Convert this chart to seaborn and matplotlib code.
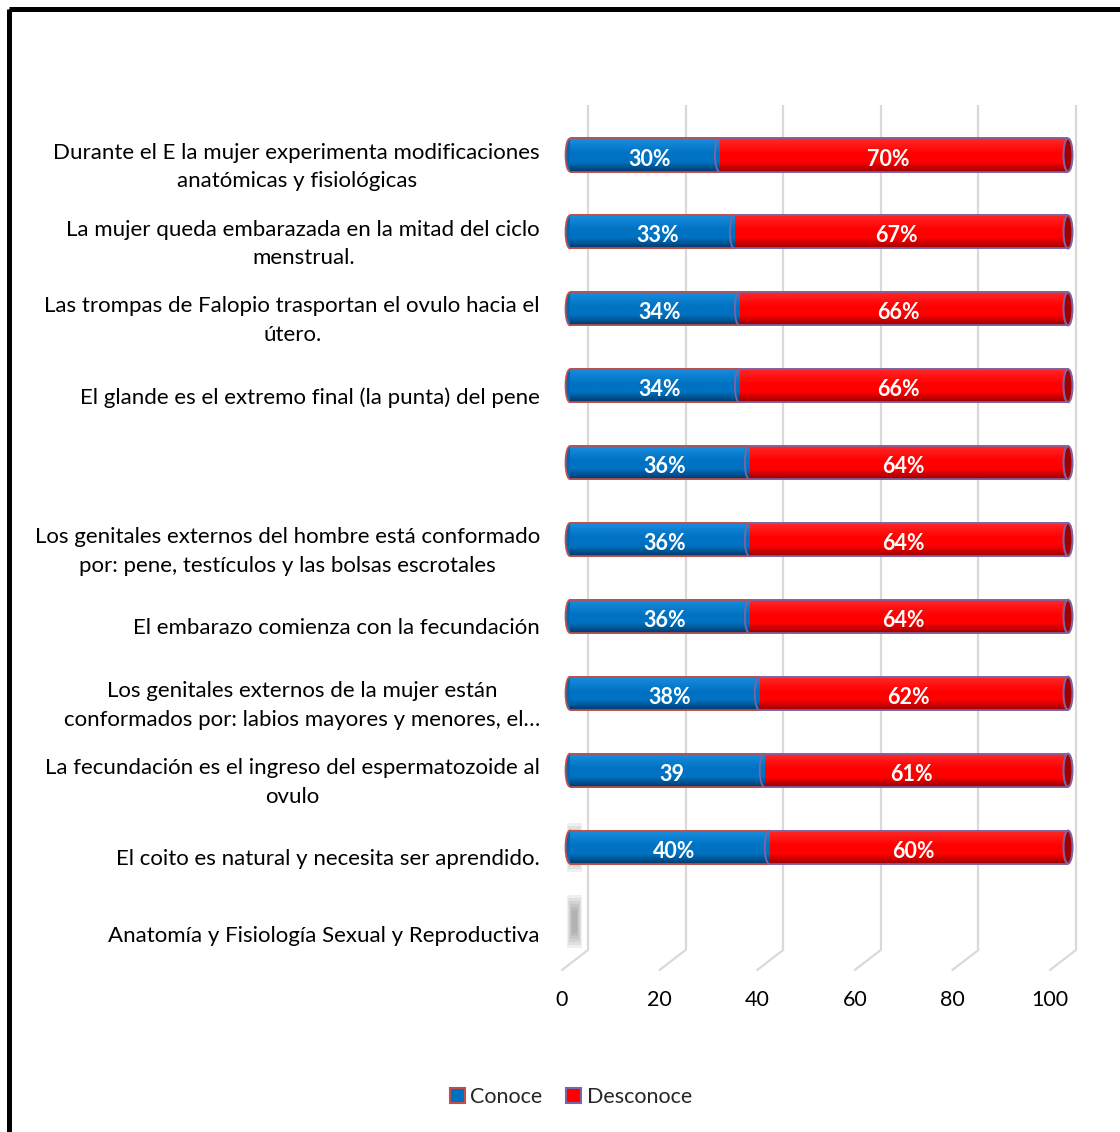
import numpy as np
import pandas as pd
import matplotlib
matplotlib.use("Agg")
import matplotlib.pyplot as plt
import seaborn as sns
from matplotlib.patches import Ellipse, Arc, Patch, Rectangle
from matplotlib.transforms import ScaledTranslation, blended_transform_factory

# ---------------- data ----------------
categories = [
    "Durante el E la mujer experimenta modificaciones\nanatómicas y fisiológicas",
    "La mujer queda embarazada en la mitad del ciclo\nmenstrual.",
    "Las trompas de Falopio trasportan el ovulo hacia el\nútero.",
    "El glande es el extremo final (la punta) del pene",
    " ",
    "Los genitales externos del hombre está conformado\npor: pene, testículos y las bolsas escrotales",
    "El embarazo comienza con la fecundación",
    "Los genitales externos de la mujer están\nconformados por: labios mayores y menores, el…",
    "La fecundación es el ingreso del espermatozoide al\novulo",
    "El coito es natural y necesita ser aprendido.",
    "Anatomía y Fisiología Sexual y Reproductiva",
]
bar_categories = categories[:10]
conoce = [30, 33, 34, 34, 36, 36, 36, 38, 39, 40]
desconoce = [70, 67, 66, 66, 64, 64, 64, 62, 61, 60]
conoce_labels = ["30%", "33%", "34%", "34%", "36%", "36%", "36%", "38%", "39", "40%"]
desconoce_labels = ["70%", "67%", "66%", "66%", "64%", "64%", "64%", "62%", "61%", "60%"]
x_ticks = [0, 20, 40, 60, 80, 100]
series_names = ["Conoce", "Desconoce"]

# ---------------- style ----------------
W, H = 1120, 1132
DPI = 100
sns.set_theme(style="white")
FONT = ["Lato", "DejaVu Sans"]
plt.rcParams["font.family"] = FONT

BLUE = "#0070C0"
RED = "#FF0000"
BLUE_EDGE = "#C0504D"
RED_EDGE = "#8064A2"

fig = plt.figure(figsize=(W / DPI, H / DPI), dpi=DPI)
fig.patch.set_facecolor("white")

def px(dx, dy):
    return ScaledTranslation(dx / DPI, dy / DPI, fig.dpi_scale_trans)

# overlay axes in pixel coordinates (grid, floor, tick labels, border)
ax_o = fig.add_axes([0, 0, 1, 1], zorder=0)
ax_o.set_xlim(0, W)
ax_o.set_ylim(H, 0)
ax_o.axis("off")

back_x0, back_scale = 588.0, 4.88
front_x0 = 562.0
grid_top, grid_bot, floor_y = 105, 950, 970
for v in x_ticks:
    xb = back_x0 + back_scale * v
    xf = front_x0 + back_scale * v
    ax_o.plot([xb, xb], [grid_top, grid_bot], color="#d9d9d9", lw=1.6,
              solid_capstyle="butt")
    ax_o.plot([xb, xf], [grid_bot, floor_y], color="#d9d9d9", lw=1.6)
    ax_o.text(xf, 1000, str(v), ha="center", va="center", fontsize=15.5,
              color="black")

# border (right/bottom edges fall outside the image)
ax_o.add_patch(Rectangle((9, 9), W + 20, H + 20, fill=False, lw=3.6,
                         edgecolor="black", clip_on=False))

# blurred shadow of the empty 3D category near the origin
for (y0, y1) in [(823, 872), (895, 948)]:
    for k in range(6):
        ax_o.add_patch(Rectangle((567 + k, y0 + k * 3), 15 - 2 * k, (y1 - y0) - k * 6,
                                 facecolor="#505050", alpha=0.09, lw=0))

# main bar axes
ax_left, ax_right = 570, 1068
centre_first, spacing = 155.0, 76.9
ax_top = centre_first - spacing / 2
ax_bot = centre_first + spacing * 10 + spacing / 2
ax = fig.add_axes([ax_left / W, 1 - ax_bot / H, (ax_right - ax_left) / W,
                   (ax_bot - ax_top) / H], zorder=1)
ax.patch.set_alpha(0)

df = pd.DataFrame({"cat": bar_categories,
                   "Conoce": conoce,
                   "Desconoce": desconoce})
df["total"] = df["Conoce"] + df["Desconoce"]

BAR_H = 0.43
sns.barplot(data=df, x="total", y="cat", order=categories, color=RED,
            saturation=1, width=BAR_H, ax=ax, edgecolor=RED_EDGE, linewidth=1.3)
n_red = len(ax.patches)
sns.barplot(data=df, x="Conoce", y="cat", order=categories, color=BLUE,
            saturation=1, width=BAR_H, ax=ax, edgecolor=BLUE_EDGE, linewidth=1.3)

ax.set_xlim(0, 100)
ax.set_ylim(10.5, -0.5)
ax.set_xlabel("")
ax.set_ylabel("")
ax.set_xticks([])
ax.set_yticks([])
for s in ax.spines.values():
    s.set_visible(False)

def gradient(top, mid, bottom, n=64):
    t = np.linspace(0, 1, n)
    c_top, c_mid, c_bot = [np.array(matplotlib.colors.to_rgb(c)) for c in (top, mid, bottom)]
    out = np.zeros((n, 1, 3))
    for i, tt in enumerate(t):
        if tt < 0.45:
            f = tt / 0.45
            out[i, 0] = c_top * (1 - f) + c_mid * f
        elif tt < 0.7:
            out[i, 0] = c_mid
        else:
            f = (tt - 0.7) / 0.3
            out[i, 0] = c_mid * (1 - f) + c_bot * f
    return out

grad_red = gradient("#ff2a2a", "#ff0000", "#9a0000")
grad_blue = gradient("#1a8ee0", "#0072c2", "#003a6a")

patches = list(ax.patches)
red_patches = patches[:n_red]
blue_patches = patches[n_red:]

cap_w = 1.8  # cylinder end width in data units
for patch, grad in [(p, grad_red) for p in red_patches] + [(p, grad_blue) for p in blue_patches]:
    x0, y0 = patch.get_x(), patch.get_y()
    w, h = patch.get_width(), patch.get_height()
    if not np.isfinite(w) or w == 0:
        continue
    im = ax.imshow(grad, extent=(x0, x0 + w, y0 + h, y0), aspect="auto",
                   zorder=patch.get_zorder() + 0.01, interpolation="bilinear")
    im.set_clip_path(patch)

for i, cat in enumerate(bar_categories):
    c = conoce[i]
    tot = conoce[i] + desconoce[i]
    # left rounded end of the blue segment
    ax.add_patch(Ellipse((0, i), cap_w, BAR_H, facecolor="#0068b5",
                         edgecolor=BLUE_EDGE, lw=1.3, zorder=0.5, clip_on=False))
    # blue/red boundary curve
    ax.add_patch(Arc((c, i), cap_w, BAR_H, theta1=90, theta2=270,
                     edgecolor=RED_EDGE, lw=1.3, zorder=3, clip_on=False))
    # right cap
    ax.add_patch(Ellipse((tot, i), cap_w, BAR_H, facecolor="#a00000",
                         edgecolor=RED_EDGE, lw=1.5, zorder=3, clip_on=False))
    # outline again on top of the gradients
    ax.plot([0, c], [i - BAR_H / 2, i - BAR_H / 2], color=BLUE_EDGE, lw=1.2, zorder=3)
    ax.plot([0, c], [i + BAR_H / 2, i + BAR_H / 2], color=BLUE_EDGE, lw=1.2, zorder=3)
    ax.plot([c, tot], [i - BAR_H / 2, i - BAR_H / 2], color=RED_EDGE, lw=1.2, zorder=3)
    ax.plot([c, tot], [i + BAR_H / 2, i + BAR_H / 2], color=RED_EDGE, lw=1.2, zorder=3)
    # value labels
    ax.text(c / 2 + 1, i, conoce_labels[i], ha="center", va="center", color="white",
            fontsize=15.5, fontweight="bold", zorder=4,
            transform=ax.transData + px(0, -4))
    ax.text(c + desconoce[i] / 2 - 1, i, desconoce_labels[i], ha="center", va="center",
            color="white", fontsize=15.5, fontweight="bold", zorder=4,
            transform=ax.transData + px(0, -4))

# category labels
lab_tr = blended_transform_factory(ax.transAxes, ax.transData) + px(-30, -12)
for i, cat in enumerate(categories):
    ax.text(0, i, cat.strip(), transform=lab_tr, ha="right", va="center",
            multialignment="center", fontsize=16, color="black",
            linespacing=1.55, clip_on=False)

# legend
handles = [Patch(facecolor=BLUE, edgecolor=BLUE_EDGE, lw=1.5),
           Patch(facecolor=RED, edgecolor=RED_EDGE, lw=1.5)]
fig.legend(handles, series_names, loc="center", bbox_to_anchor=(571 / W, 1 - 1097 / H),
           ncol=2, frameon=False, fontsize=15.5, handlelength=0.7, handleheight=0.7,
           handletextpad=0.25, columnspacing=1.1)

fig.savefig("out.png", dpi=DPI, facecolor="white")
